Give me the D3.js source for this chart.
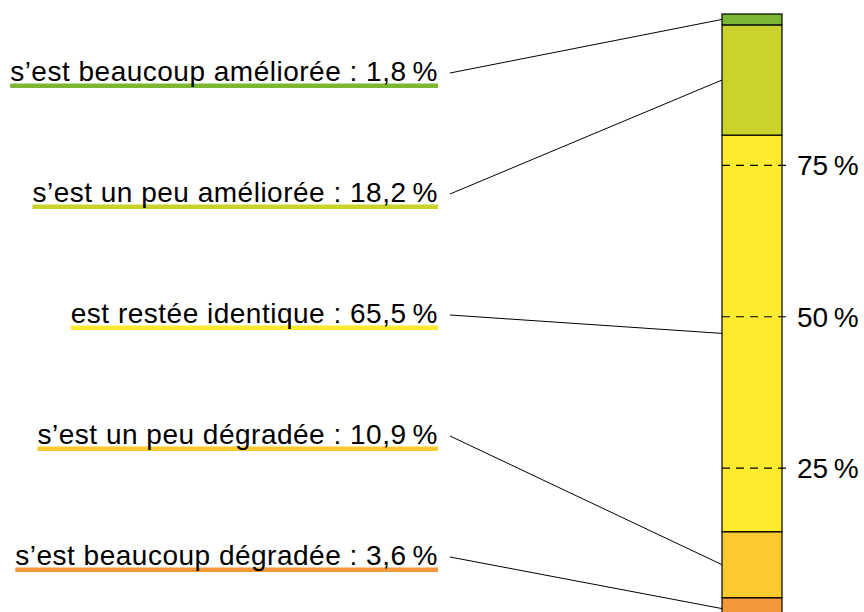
<!DOCTYPE html>
<meta charset="utf-8">
<head>
  <script src="https://cdn.jsdelivr.net/npm/d3@7"></script>
  <style>
    body { margin: 0; background: #fff; }
    text { font-family: "Liberation Sans", Arial, sans-serif; fill: #000; }
  </style>
</head>
<body>
<script>
  // data, bottom to top
  var categories = ["s’est beaucoup dégradée", "s’est un peu dégradée", "est restée identique",
                    "s’est un peu améliorée", "s’est beaucoup améliorée"];
  var values = [3.6, 10.9, 65.5, 18.2, 1.8];
  var colors = ["#f4973a", "#fcc92e", "#feea2e", "#c9d32a", "#7cb734"];
  var ticks = [25, 50, 75];

  var w = 864, h = 612;
  var svg = d3.select("body").append("svg").attr("width", w).attr("height", h);

  var y = d3.scaleLinear().domain([0, 100]).range([619.5, 14]);
  var barX = 722, barW = 60;

  // stack
  var acc = 0;
  var segs = values.map(function(v, i) {
    var s = { y0: acc, y1: acc + v, v: v, name: categories[i], color: colors[i] };
    acc += v;
    return s;
  });

  svg.append("g").selectAll("rect").data(segs).enter().append("rect")
    .attr("x", barX).attr("width", barW)
    .attr("y", function(d) { return y(d.y1); })
    .attr("height", function(d) { return y(d.y0) - y(d.y1); })
    .attr("fill", function(d) { return d.color; })
    .attr("stroke", "#000").attr("stroke-width", 1.2);

  // ticks
  var tg = svg.append("g").selectAll("g").data(ticks).enter().append("g");
  tg.append("line")
    .attr("x1", barX).attr("x2", barX + barW + 6)
    .attr("y1", function(d) { return y(d); }).attr("y2", function(d) { return y(d); })
    .attr("stroke", "#000").attr("stroke-width", 1.2)
    .attr("stroke-dasharray", "8,6");
  tg.append("text")
    .attr("x", 797).attr("y", function(d) { return y(d) + 10; })
    .attr("font-size", 28).attr("letter-spacing", 0.3)
    .text(function(d) { return d + "\u202F%"; });

  // labels (top to bottom)
  var labelY = d3.scaleLinear().domain([4, 0]).range([73, 557]);
  var lg = svg.append("g").selectAll("g").data(segs).enter().append("g");
  lg.append("text")
    .attr("x", 438).attr("y", function(d, i) { return labelY(i) + 8; })
    .attr("text-anchor", "end").attr("font-size", 28).attr("letter-spacing", 0.5)
    .text(function(d) { return d.name + " : " + String(d.v).replace(".", ",") + "\u202F%"; })
    .each(function(d, i) {
      var bb = this.getBBox();
      d3.select(this.parentNode).insert("rect", "text")
        .attr("x", bb.x).attr("width", 438 - bb.x)
        .attr("y", labelY(i) + 10.5).attr("height", 4.5)
        .attr("fill", d.color);
    });
  lg.append("line")
    .attr("x1", 450).attr("y1", function(d, i) { return labelY(i); })
    .attr("x2", barX).attr("y2", function(d) { return y((d.y0 + d.y1) / 2); })
    .attr("stroke", "#000").attr("stroke-width", 1);
</script>
</body>
